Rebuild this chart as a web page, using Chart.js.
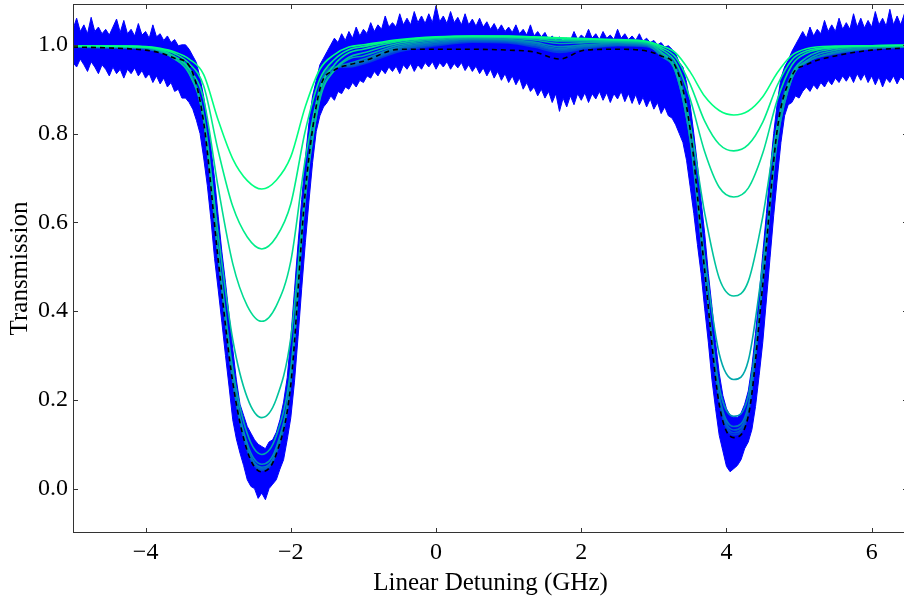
<!DOCTYPE html>
<html><head><meta charset="utf-8">
<script src="https://cdn.jsdelivr.net/npm/chart.js@4.4.1/dist/chart.umd.min.js"></script>
<style>
html,body{margin:0;padding:0;overflow:hidden;background:#fff;width:904px;height:606px}
#wrap{position:relative;width:912px;height:606px}
</style></head>
<body><div id="wrap"><canvas id="c" width="912" height="606"></canvas></div>
<script>
// ---- tick labels ----
const xTickValues = [-4, -2, 0, 2, 4, 6];
const yTickValues = [0.0, 0.2, 0.4, 0.6, 0.8, 1.0];

// ---- fitted model curves (shared detuning grid, GHz) ----
const fitX = [-5.0,-4.5,-4.0,-3.8,-3.6,-3.4,-3.2,-3.0,-2.8,-2.6,-2.4,-2.2,-2.0,-1.8,-1.6,-1.4,-1.2,-1.0,-0.5,0.0,0.5,1.0,1.35,1.7,2.05,2.5,2.9,3.1,3.3,3.5,3.7,3.9,4.1,4.3,4.5,4.7,4.9,5.1,5.5,6.0,6.5];
const fit1 = [0.997,0.997,0.996,0.992,0.984,0.968,0.933,0.830,0.743,0.694,0.675,0.695,0.748,0.861,0.945,0.978,0.995,1.000,1.012,1.018,1.020,1.020,1.018,1.016,1.014,1.012,1.008,0.998,0.982,0.939,0.884,0.852,0.842,0.851,0.883,0.937,0.976,0.991,0.997,0.998,0.999];
const fit2 = [0.997,0.997,0.995,0.990,0.980,0.958,0.907,0.761,0.636,0.567,0.540,0.567,0.642,0.807,0.923,0.967,0.989,0.996,1.010,1.017,1.019,1.019,1.017,1.015,1.013,1.011,1.007,0.994,0.972,0.911,0.828,0.776,0.761,0.775,0.826,0.909,0.966,0.986,0.995,0.998,0.999];
const fit3 = [0.997,0.997,0.995,0.989,0.974,0.946,0.877,0.678,0.507,0.412,0.377,0.412,0.513,0.743,0.899,0.955,0.982,0.990,1.008,1.016,1.019,1.018,1.016,1.013,1.012,1.010,1.006,0.990,0.961,0.878,0.759,0.679,0.657,0.677,0.756,0.876,0.954,0.981,0.994,0.998,0.999];
const fit4 = [0.997,0.997,0.994,0.987,0.969,0.935,0.840,0.572,0.336,0.205,0.160,0.202,0.340,0.669,0.877,0.943,0.972,0.982,1.004,1.014,1.018,1.017,1.014,1.009,1.009,1.008,1.004,0.984,0.945,0.820,0.621,0.474,0.434,0.467,0.613,0.818,0.933,0.971,0.992,0.997,0.998];
const fit5 = [0.997,0.996,0.994,0.986,0.968,0.936,0.830,0.535,0.270,0.124,0.077,0.119,0.271,0.654,0.881,0.942,0.968,0.975,1.000,1.011,1.016,1.015,1.011,1.003,1.005,1.006,1.002,0.982,0.939,0.788,0.519,0.304,0.246,0.288,0.505,0.786,0.924,0.964,0.988,0.995,0.997];
const fit6 = [0.996,0.995,0.993,0.985,0.970,0.940,0.829,0.528,0.253,0.101,0.055,0.093,0.250,0.660,0.891,0.945,0.958,0.968,0.996,1.008,1.014,1.012,1.006,0.996,1.000,1.004,1.000,0.975,0.938,0.785,0.486,0.229,0.163,0.209,0.468,0.785,0.924,0.960,0.984,0.993,0.996];
const fit7 = [0.996,0.995,0.992,0.984,0.971,0.944,0.831,0.527,0.247,0.093,0.048,0.085,0.243,0.667,0.899,0.948,0.955,0.964,0.993,1.005,1.012,1.010,1.003,0.992,0.997,1.002,0.999,0.978,0.945,0.796,0.487,0.210,0.140,0.187,0.465,0.796,0.929,0.961,0.982,0.992,0.996];
const fit8 = [0.996,0.994,0.992,0.984,0.972,0.945,0.832,0.527,0.245,0.090,0.045,0.083,0.240,0.670,0.902,0.949,0.953,0.961,0.990,1.002,1.010,1.008,1.000,0.989,0.995,1.000,0.998,0.980,0.950,0.803,0.489,0.204,0.132,0.180,0.466,0.803,0.931,0.962,0.981,0.992,0.996];
const fit9 = [0.995,0.994,0.991,0.983,0.972,0.946,0.833,0.526,0.243,0.088,0.043,0.081,0.238,0.673,0.905,0.950,0.951,0.959,0.988,1.000,1.008,1.006,0.998,0.986,0.993,0.999,0.997,0.981,0.954,0.810,0.493,0.200,0.126,0.173,0.469,0.810,0.934,0.962,0.980,0.991,0.995];
const fit10 = [0.995,0.993,0.991,0.983,0.973,0.947,0.834,0.525,0.241,0.086,0.041,0.079,0.236,0.676,0.908,0.951,0.950,0.957,0.985,0.998,1.006,1.004,0.995,0.983,0.991,0.998,0.996,0.983,0.958,0.817,0.497,0.196,0.121,0.168,0.472,0.817,0.937,0.963,0.980,0.991,0.995];
const fitBest = [0.995,0.993,0.988,0.982,0.970,0.953,0.825,0.515,0.240,0.085,0.038,0.078,0.235,0.670,0.900,0.943,0.955,0.963,0.990,0.990,0.990,0.988,0.984,0.968,0.988,0.990,0.986,0.975,0.950,0.810,0.490,0.190,0.115,0.163,0.460,0.810,0.930,0.955,0.975,0.988,0.993];

// ---- measured transmission: noisy trace, upper / lower envelope ----
const dataX = [-5.00,-4.95,-4.90,-4.85,-4.80,-4.75,-4.70,-4.65,-4.60,-4.55,-4.50,-4.45,-4.40,-4.35,-4.30,-4.25,-4.20,-4.15,-4.10,-4.05,-4.00,-3.95,-3.90,-3.85,-3.80,-3.75,-3.70,-3.65,-3.60,-3.55,-3.50,
-3.45,-3.40,-3.35,-3.30,-3.25,-3.20,-3.15,-3.10,-3.05,-3.00,-2.95,-2.90,-2.85,-2.80,-2.75,-2.70,-2.65,-2.60,-2.55,-2.50,-2.45,-2.40,-2.35,-2.30,-2.25,-2.20,-2.15,-2.10,-2.05,-2.00,-1.95,-1.90,-1.85,-1.80,-1.75,-1.70,-1.65,-1.60,-1.55,
-1.50,-1.45,-1.40,-1.35,-1.30,-1.25,-1.20,-1.15,-1.10,-1.05,-1.00,-0.95,-0.90,-0.85,-0.80,-0.75,-0.70,-0.65,-0.60,-0.55,-0.50,-0.45,-0.40,-0.35,-0.30,-0.25,-0.20,-0.15,-0.10,-0.05,
0.00,0.05,0.10,0.15,0.20,0.25,0.30,0.35,0.40,0.45,0.50,0.55,0.60,0.65,0.70,0.75,0.80,0.85,0.90,0.95,1.00,1.05,1.10,1.15,1.20,1.25,1.30,1.35,1.40,1.45,1.50,1.55,1.60,1.65,1.70,1.75,1.80,1.85,1.90,1.95,
2.00,2.05,2.10,2.15,2.20,2.25,2.30,2.35,2.40,2.45,2.50,2.55,2.60,2.65,2.70,2.75,2.80,2.85,2.90,2.95,3.00,3.05,3.10,3.15,3.20,3.25,
3.30,3.35,3.40,3.45,3.50,3.55,3.60,3.65,3.70,3.75,3.80,3.85,3.90,3.95,4.00,4.05,4.10,4.15,4.20,4.25,4.30,4.35,4.40,4.45,4.50,4.55,4.60,4.65,4.70,4.75,4.80,4.85,4.90,4.95,5.00,
5.05,5.10,5.15,5.20,5.25,5.30,5.35,5.40,5.45,5.50,5.55,5.60,5.65,5.70,5.75,5.80,5.85,5.90,5.95,6.00,6.05,6.10,6.15,6.20,6.25,6.30,6.35,6.40,6.45,6.50];
const dataUpper = [1.035,1.060,1.030,1.045,1.025,1.062,1.030,1.040,1.025,1.035,1.022,1.040,1.058,1.028,1.055,1.025,1.035,1.020,1.048,1.022,1.030,1.015,1.045,1.018,1.025,1.010,1.020,1.005,1.012,0.998,1.000,
1.000,0.990,0.975,0.960,0.925,0.883,0.828,0.769,0.698,0.614,0.534,0.465,0.390,0.315,0.245,0.190,0.165,0.140,0.125,0.110,0.100,0.095,0.090,0.105,0.110,0.127,0.155,0.195,0.250,0.340,0.446,0.553,0.652,0.744,0.825,0.885,0.920,0.955,0.970,
0.985,1.000,1.015,1.005,1.025,1.010,1.030,1.015,1.040,1.020,1.035,1.025,1.050,1.030,1.045,1.035,1.065,1.040,1.050,1.040,1.070,1.045,1.060,1.045,1.075,1.050,1.065,1.048,1.070,1.050,
1.088,1.052,1.065,1.048,1.075,1.050,1.062,1.045,1.070,1.045,1.058,1.042,1.060,1.040,1.052,1.035,1.048,1.032,1.045,1.030,1.040,1.028,1.045,1.025,1.035,1.022,1.045,1.020,1.030,1.018,1.028,1.012,1.020,1.010,1.018,1.008,1.015,1.010,1.030,1.012,
1.022,1.015,1.035,1.015,1.025,1.012,1.030,1.015,1.022,1.012,1.035,1.015,1.025,1.012,1.020,1.010,1.025,1.008,1.015,1.005,1.010,1.000,1.005,0.995,0.998,0.990,
0.980,0.960,0.950,0.915,0.865,0.800,0.730,0.650,0.575,0.485,0.410,0.330,0.260,0.210,0.180,0.165,0.160,0.160,0.170,0.190,0.220,0.275,0.350,0.435,0.530,0.620,0.715,0.800,0.870,0.925,0.950,0.965,0.985,1.000,1.015,
1.030,1.015,1.040,1.020,1.035,1.025,1.055,1.030,1.045,1.030,1.060,1.035,1.050,1.035,1.070,1.040,1.060,1.038,1.055,1.040,1.075,1.045,1.060,1.042,1.080,1.045,1.065,1.045,1.070,1.050];
const dataLower = [0.960,0.950,0.968,0.955,0.940,0.962,0.950,0.935,0.955,0.945,0.930,0.950,0.935,0.945,0.925,0.945,0.935,0.948,0.930,0.942,0.925,0.935,0.915,0.930,0.912,0.925,0.905,0.915,0.895,0.900,0.880,
0.880,0.870,0.855,0.830,0.800,0.745,0.683,0.606,0.518,0.448,0.375,0.300,0.229,0.155,0.112,0.080,0.052,0.020,0.005,0.000,-0.022,-0.010,-0.025,0.000,0.010,0.020,0.044,0.065,0.110,0.160,0.240,0.342,0.451,0.554,0.648,0.735,0.805,0.840,0.860,
0.870,0.885,0.875,0.895,0.890,0.905,0.900,0.915,0.905,0.920,0.915,0.930,0.925,0.940,0.930,0.945,0.935,0.950,0.940,0.952,0.935,0.955,0.945,0.958,0.940,0.955,0.945,0.960,0.950,0.962,
0.945,0.960,0.950,0.962,0.945,0.958,0.948,0.960,0.942,0.955,0.940,0.952,0.935,0.948,0.930,0.945,0.925,0.940,0.920,0.935,0.915,0.930,0.910,0.925,0.900,0.915,0.895,0.905,0.885,0.900,0.880,0.895,0.870,0.890,0.850,0.880,0.860,0.885,0.865,0.890,
0.875,0.892,0.870,0.890,0.878,0.895,0.875,0.892,0.870,0.890,0.878,0.895,0.872,0.890,0.868,0.888,0.865,0.882,0.860,0.878,0.855,0.870,0.845,0.860,0.840,0.835,
0.820,0.800,0.780,0.740,0.680,0.620,0.550,0.485,0.405,0.330,0.245,0.180,0.120,0.085,0.050,0.038,0.045,0.052,0.065,0.090,0.105,0.133,0.185,0.255,0.330,0.425,0.520,0.615,0.700,0.780,0.840,0.865,0.870,0.885,0.880,
0.895,0.905,0.895,0.910,0.900,0.915,0.905,0.920,0.910,0.925,0.915,0.930,0.918,0.932,0.915,0.935,0.920,0.935,0.915,0.930,0.910,0.928,0.905,0.925,0.915,0.930,0.912,0.928,0.920,0.932];

// ---- styles (kept separate from data) ----
const fitSeries = [fit1, fit2, fit3, fit4, fit5, fit6, fit7, fit8, fit9, fit10];
const fitColors = ['rgb(0,255,128)','rgb(0,237,137)','rgb(0,219,146)','rgb(0,194,158)','rgb(0,168,171)','rgb(0,143,184)','rgb(0,122,194)','rgb(0,102,204)','rgb(0,82,214)','rgb(0,61,224)'];

const pts = (xs, ys) => xs.map((x, i) => ({x: x, y: ys[i]}));

const datasets = [];
datasets.push({label: 'best', data: pts(fitX, fitBest), borderColor: '#000', borderWidth: 1.6,
  borderDash: [5, 4], pointRadius: 0, fill: false, cubicInterpolationMode: 'monotone', order: 0});
fitSeries.forEach((s, i) => datasets.push({label: 'fit' + (i + 1), data: pts(fitX, s),
  borderColor: fitColors[i], borderWidth: 1.6, pointRadius: 0, fill: false,
  cubicInterpolationMode: 'monotone', order: i + 1}));
datasets.push({label: 'dataU', data: pts(dataX, dataUpper), borderColor: '#0000ff', borderWidth: 1,
  backgroundColor: '#0000ff', pointRadius: 0, tension: 0, fill: '+1', order: 20});
datasets.push({label: 'dataL', data: pts(dataX, dataLower), borderColor: '#0000ff', borderWidth: 1,
  pointRadius: 0, tension: 0, fill: false, order: 21});

const frame = {
  id: 'frame',
  afterDraw(chart) {
    const {ctx, chartArea: a, scales: {x, y}} = chart;
    ctx.save();
    ctx.strokeStyle = '#333';
    ctx.lineWidth = 1;
    ctx.strokeRect(a.left + 0.5, a.top + 0.5, a.right - a.left - 1, a.bottom - a.top - 1);
    const L = 5;
    ctx.beginPath();
    xTickValues.forEach(v => {
      const p = Math.round(x.getPixelForValue(v)) + 0.5;
      ctx.moveTo(p, a.bottom); ctx.lineTo(p, a.bottom - L);
      ctx.moveTo(p, a.top); ctx.lineTo(p, a.top + L);
    });
    yTickValues.forEach(v => {
      const p = Math.round(y.getPixelForValue(v)) + 0.5;
      ctx.moveTo(a.left, p); ctx.lineTo(a.left + L, p);
      ctx.moveTo(a.right, p); ctx.lineTo(a.right - L, p);
    });
    ctx.stroke();
    ctx.restore();
  }
};

const serif = '"Liberation Serif", "DejaVu Serif", serif';

new Chart(document.getElementById('c'), {
  type: 'line',
  data: {datasets},
  options: {
    responsive: false,
    devicePixelRatio: 1,
    animation: false,
    layout: {padding: {top: 4, right: 4, left: 0, bottom: 0}},
    plugins: {legend: {display: false}, tooltip: {enabled: false}},
    scales: {
      x: {
        type: 'linear', min: -5, max: 6.5,
        afterBuildTicks: s => { s.ticks = xTickValues.map(v => ({value: v})); },
        afterFit: s => { s.height = 73; s.paddingLeft = 0; s.paddingRight = 0; },
        grid: {display: false, drawTicks: false},
        border: {display: false},
        ticks: {color: '#000', padding: 5, maxRotation: 0, font: {family: serif, size: 24},
          callback: v => (v < 0 ? '\u2212' + Math.abs(v) : String(v))},
        title: {display: true, text: 'Linear Detuning (GHz)', color: '#000',
          font: {family: serif, size: 25}, padding: {top: 0, bottom: 8}}
      },
      y: {
        type: 'linear', min: -0.1, max: 1.092,
        afterBuildTicks: s => { s.ticks = yTickValues.map(v => ({value: v})); },
        afterFit: s => { s.width = 73; s.paddingTop = 0; s.paddingBottom = 0; },
        grid: {display: false, drawTicks: false},
        border: {display: false},
        ticks: {color: '#000', padding: 5, font: {family: serif, size: 24},
          callback: v => Number(v).toFixed(1)},
        title: {display: true, text: 'Transmission', color: '#000',
          font: {family: serif, size: 25}, padding: {top: 5, bottom: 0}}
      }
    }
  },
  plugins: [frame]
});
</script>
</body></html>
